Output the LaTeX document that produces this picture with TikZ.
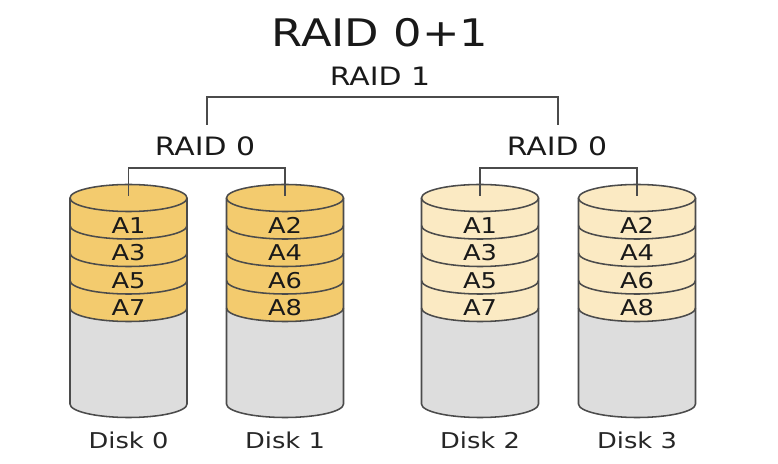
\documentclass[tikz,border=0pt]{standalone}
\usepackage{fontspec}
\setmainfont{DejaVu Sans}
\usetikzlibrary{positioning}
\definecolor{StripeDark}{RGB}{243,203,110}
\definecolor{StripeLight}{RGB}{251,234,195}
\definecolor{DiskGray}{RGB}{221,221,221}
\definecolor{EdgeGray}{RGB}{75,75,75}
\newcommand{\wide}[1]{\scalebox{1.18}[1]{#1}}

\begin{document}
\begin{tikzpicture}[
    x=0.025cm, y=-0.025cm,
    edge/.style={draw=EdgeGray, line width=1.1pt},
    wire/.style={draw=EdgeGray, line width=1.1pt},
    title/.style={font=\fontsize{27}{30}\selectfont, text=black!90},
    level/.style={font=\fontsize{18}{21}\selectfont, text=black!90},
    block/.style={font=\fontsize{15.5}{17}\selectfont, text=black!90, inner sep=0pt},
    disklabel/.style={font=\fontsize{15.5}{18}\selectfont, text=black!85}
  ]
    \useasboundingbox (0,0) rectangle (778,464);

    % Titles
    \node[title] (head) at (380,33) {\wide{RAID 0+1}};
    \node[level] (r1) at (380,76) {\wide{RAID 1}};
    \node[level] (r0l) at (205,146) {\wide{RAID 0}};
    \node[level] (r0r) at (557,146) {\wide{RAID 0}};

    % Disks
    \foreach \cx/\tone/\n/\a/\b/\c/\d in {
        128.5/StripeDark/0/A1/A3/A5/A7,
        285/StripeDark/1/A2/A4/A6/A8,
        480/StripeLight/2/A1/A3/A5/A7,
        637/StripeLight/3/A2/A4/A6/A8}{
      \fill[DiskGray] (\cx-58.5,198) -- (\cx-58.5,404) arc (180:0:58.5 and 13.5) -- (\cx+58.5,198) -- cycle;
      \fill[\tone] (\cx-58.5,198) -- (\cx-58.5,308) arc (180:0:58.5 and 13.5) -- (\cx+58.5,198) -- cycle;
      \foreach \k in {1,2,3,4}
        \draw[edge] (\cx-58.5,198+27.5*\k) arc (180:0:58.5 and 13.5);
      \draw[edge] (\cx-58.5,198) -- (\cx-58.5,404) arc (180:0:58.5 and 13.5) -- (\cx+58.5,198);
      \draw[edge, fill=\tone] (\cx,198) ellipse (58.5 and 13.5);
      \foreach \k/\t in {1/\a,2/\b,3/\c,4/\d}
        \node[block] (s\n\k) at (\cx,197.75+27.5*\k) {\wide{\t}};
      \node[disklabel] (d\n) at (\cx,440) {\wide{Disk \n}};
      \coordinate (t\n) at (\cx,196);
    }

    % Brackets
    \coordinate (m0) at (207,125);
    \coordinate (m1) at (558,125);
    \draw[wire] (t0) -- ++(0,-28) -| (t1);
    \draw[wire] (t2) -- ++(0,-28) -| (t3);
    \draw[wire] (m0) -- ++(0,-28) -| (m1);
  \end{tikzpicture}
\end{document}
